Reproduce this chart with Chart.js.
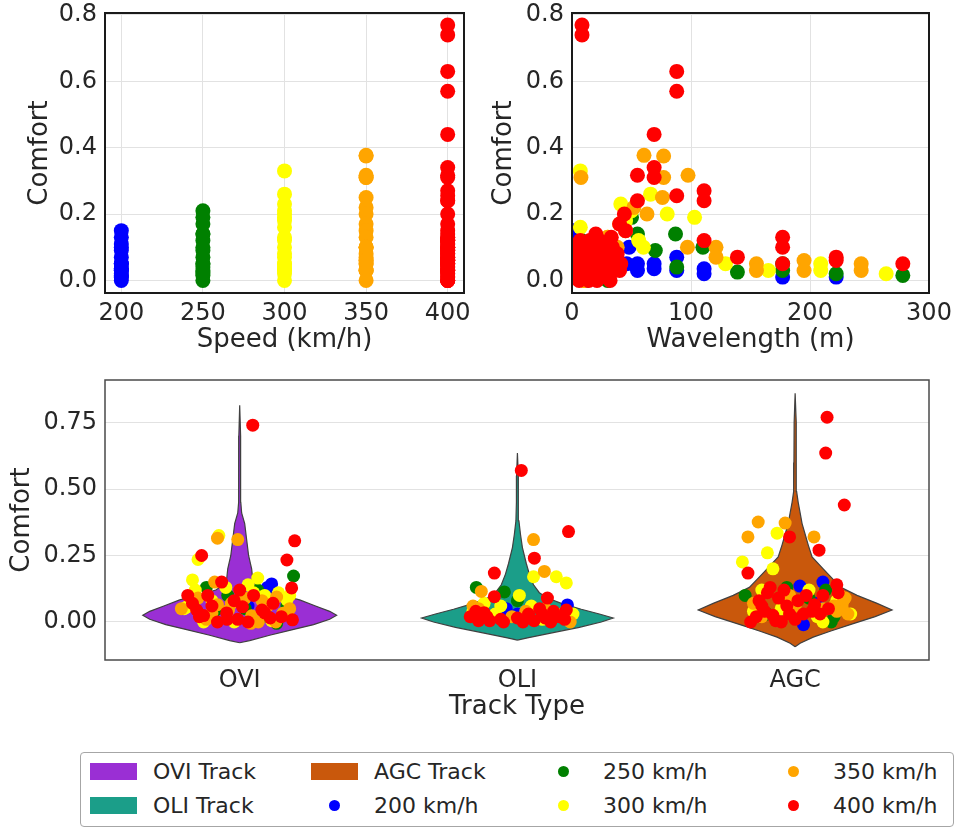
<!DOCTYPE html>
<html>
<head>
<meta charset="utf-8">
<script src="https://cdn.jsdelivr.net/npm/chart.js@4.4.1/dist/chart.umd.min.js"></script>
<style>
  body { margin: 0; background: #fff; font-family: 'DejaVu Sans', sans-serif; }
  #page { position: relative; width: 956px; height: 828px; overflow: hidden; }
  .panel { position: absolute; }
  #legend {
    position: absolute; left: 80px; top: 752px; width: 874px; height: 75px;
    box-sizing: border-box; border: 1px solid #a6a6a6; border-radius: 4px;
    padding: 1px 0 0 9px; display: grid;
    grid-template-columns: 221px 229px 230px auto; grid-template-rows: 34px 34px;
    grid-auto-flow: column; font-size: 22px; color: #262626;
  }
  .item { display: flex; align-items: center; white-space: nowrap; }
  .handle { width: 47px; height: 17px; margin-right: 16px; display: flex; align-items: center; justify-content: center; }
  .dot { width: 11px; height: 11px; border-radius: 50%; }
</style>
</head>
<body>
<div id="page">
  <div class="panel" style="left:0;top:0;width:480px;height:360px"><canvas id="speedChart"></canvas></div>
  <div class="panel" style="left:480px;top:0;width:476px;height:360px"><canvas id="waveChart"></canvas></div>
  <div class="panel" style="left:0;top:360px;width:956px;height:392px"><canvas id="trackChart"></canvas></div>
  <div id="legend"></div>
</div>
<script>
// Speeds and tracks
const speeds = [200, 250, 300, 350, 400];
const speedLabels = ['200 km/h', '250 km/h', '300 km/h', '350 km/h', '400 km/h'];
const speedColors = ['#0000ff', '#008000', '#ffff00', '#ffa500', '#ff0000'];
const trackNames = ['OVI', 'OLI', 'AGC'];
const trackLabels = ['OVI Track', 'OLI Track', 'AGC Track'];
const trackColors = ['#9a2fd4', '#1b9e89', '#c9580c'];

// Wavelength (m) and comfort of each case, per speed
const wave200 = [1, 2, 4, 8, 48, 88, 46, 55, 69, 55, 69, 88, 111, 111, 177, 222, 12, 25];
const comfort200 = [0.15, 0.13, 0.11, 0.09, 0.10, 0.07, 0.05, 0.05, 0.05, 0.03, 0.035, 0.03, 0.035, 0.02, 0.01, 0.01, 0.0, 0.015];
const wave250 = [47, 50, 43, 55, 87, 8, 110, 70, 21, 88, 139, 177, 177, 222, 278, 12, 30];
const comfort250 = [0.21, 0.19, 0.17, 0.14, 0.14, 0.12, 0.10, 0.09, 0.05, 0.04, 0.025, 0.05, 0.03, 0.02, 0.015, 0.07, 0.0];
const wave300 = [7, 66, 41, 50, 80, 103, 7, 45, 56, 30, 60, 20, 129, 165, 209, 209, 264, 10, 35, 27];
const comfort300 = [0.33, 0.26, 0.23, 0.21, 0.20, 0.19, 0.16, 0.18, 0.12, 0.13, 0.10, 0.08, 0.05, 0.03, 0.05, 0.03, 0.02, 0.0, 0.07, 0.04];
const wave350 = [60.5, 77, 97.5, 77, 7.5, 76, 52, 63, 40, 45, 30, 97, 121, 121, 20, 155, 155, 195, 195, 243, 243, 10, 38, 25];
const comfort350 = [0.377, 0.375, 0.317, 0.31, 0.31, 0.25, 0.22, 0.20, 0.17, 0.15, 0.13, 0.10, 0.10, 0.07, 0.08, 0.05, 0.03, 0.06, 0.03, 0.05, 0.03, 0.0, 0.1, 0.06];
const wave400 = [8.4, 8.4, 88, 88, 69, 69, 55, 69, 111, 88, 111, 55, 44, 40, 45, 20, 33, 15, 177, 111, 28, 177, 8, 22, 12, 139, 222, 222, 30, 5, 18, 278, 177, 38, 36, 10, 3, 25, 24, 6, 14, 2, 40, 32, 16,
    4, 7, 11, 13, 17, 19, 23, 26, 29, 31, 34, 37, 41, 9, 21, 1];
const comfort400 = [0.77, 0.74, 0.63, 0.57, 0.44, 0.34, 0.317, 0.31, 0.27, 0.255, 0.24, 0.24, 0.20, 0.17, 0.15, 0.14, 0.13, 0.12, 0.13, 0.12, 0.11, 0.10, 0.10, 0.09, 0.08, 0.07, 0.07, 0.06, 0.06, 0.05, 0.05, 0.05, 0.05, 0.08, 0.04, 0.03, 0.02, 0.02, 0.01, 0.0, 0.0, 0.07, 0.03, 0.0, 0.09,
    0.04, 0.12, 0.06, 0.11, 0.03, 0.08, 0.12, 0.06, 0.09, 0.03, 0.10, 0.06, 0.05, 0.01, 0.0, 0.10];

// Tick labels
const speedTicks = [200, 250, 300, 350, 400];
const waveTicks = [0, 100, 200, 300];
const comfortTicks = [0, 0.2, 0.4, 0.6, 0.8];
const trackTicks = [0, 1, 2];
const violinTicks = [0, 0.25, 0.5, 0.75];

// Violin outlines: comfort level and half width (in track units)
const oviLevels = [-0.078, -0.07, -0.05, -0.03, -0.01, 0.01, 0.025, 0.04, 0.06, 0.083, 0.10, 0.12, 0.14, 0.16, 0.20, 0.25, 0.31, 0.37, 0.41, 0.45, 0.55, 0.70, 0.815];
const oviWidths = [0, 0.036, 0.108, 0.187, 0.266, 0.324, 0.349, 0.324, 0.273, 0.216, 0.151, 0.086, 0.058, 0.047, 0.043, 0.032, 0.025, 0.018, 0.007, 0.004, 0.0036, 0.003, 0];
const oliLevels = [-0.068, -0.06, -0.04, -0.02, 0.0, 0.015, 0.03, 0.048, 0.07, 0.09, 0.11, 0.14, 0.18, 0.22, 0.28, 0.33, 0.38, 0.45, 0.55, 0.635];
const oliWidths = [0, 0.036, 0.129, 0.223, 0.302, 0.345, 0.295, 0.230, 0.158, 0.108, 0.079, 0.058, 0.043, 0.032, 0.018, 0.011, 0.0054, 0.0036, 0.003, 0];
const agcLevels = [-0.093, -0.08, -0.057, -0.035, -0.01, 0.02, 0.045, 0.07, 0.10, 0.13, 0.16, 0.20, 0.245, 0.29, 0.33, 0.37, 0.41, 0.45, 0.49, 0.6, 0.75, 0.86];
const agcWidths = [0, 0.018, 0.065, 0.126, 0.198, 0.288, 0.349, 0.295, 0.223, 0.165, 0.137, 0.101, 0.061, 0.047, 0.036, 0.025, 0.018, 0.011, 0.0054, 0.0043, 0.0036, 0];

// Strip points: [offset from track centre, comfort]
const ovi200 = [[0.115, 0.143], [0.10, 0.13], [0.03, 0.06], [0.08, 0.11]];
const ovi250 = [[0.194, 0.173], [-0.043, 0.10], [0.065, 0.12], [-0.086, 0.045], [0.133, -0.005], [0.17, 0.06], [-0.12, 0.13], [0.02, 0.05], [0.1, 0.02]];
const ovi300 = [[-0.075, 0.325], [-0.15, 0.235], [-0.17, 0.158], [0.065, 0.165], [-0.19, 0.057], [0.17, 0.083], [0.05, 0.11], [-0.13, 0.0], [0.115, 0.005], [-0.2, 0.05], [0.14, 0.11],
    [-0.16, 0.12], [-0.05, 0.13], [0.03, 0.14], [0.09, 0.1], [-0.1, 0.08], [0.18, 0.1], [-0.02, 0.0]];
const ovi350 = [[-0.08, 0.315], [-0.007, 0.31], [-0.09, 0.15], [0.133, 0.094], [0.043, 0.023], [-0.1, 0.034], [-0.08, 0.065], [0.156, 0.033], [0.067, 0.0], [-0.04, 0.045], [-0.21, 0.05], [0.1, 0.06],
    [-0.15, 0.09], [-0.03, 0.07], [0.02, 0.09], [0.08, 0.08], [0.18, 0.05], [-0.12, 0.01], [0.04, -0.005], [0.13, 0.0]];
const ovi400 = [[0.047, 0.74], [-0.137, 0.25], [0.198, 0.305], [0.17, 0.233], [0.187, 0.128], [-0.065, 0.15], [-0.187, 0.10], [-0.115, 0.10], [0, 0.12], [-0.155, 0.045], [-0.145, 0.02], [-0.047, 0.034], [0.01, 0.057], [0.08, 0.045], [0.09, 0.034], [0.19, 0.008], [-0.045, 0.01], [-0.007, 0.01], [-0.13, 0.024],
    [-0.17, 0.07], [-0.1, 0.06], [-0.02, 0.08], [0.05, 0.1], [0.12, 0.07], [0.15, 0.02], [-0.08, 0.0], [0.03, 0.0], [0.11, 0.015]];
const oli200 = [[-0.04, 0.05], [0.18, 0.064], [0.0, 0.03]];
const oli250 = [[-0.148, 0.13], [-0.047, 0.113], [0.12, 0.02], [-0.1, 0.01], [0.0, 0.08]];
const oli300 = [[0.058, 0.17], [0.14, 0.17], [0.176, 0.147], [0.007, 0.1], [-0.06, 0.06], [0.2, 0.03], [-0.16, 0.04], [0.09, 0.01], [-0.12, 0.07], [0.05, 0.06], [-0.08, 0.03]];
const oli350 = [[0.058, 0.31], [0.097, 0.19], [-0.13, 0.115], [-0.14, 0.05], [0.19, 0.0], [0.03, 0.04], [-0.02, 0.02], [-0.16, 0.06], [0.1, 0.05], [0.16, 0.03]];
const oli400 = [[0.014, 0.57], [0.184, 0.34], [0.061, 0.24], [-0.083, 0.184], [-0.083, 0.095], [0.108, 0.09], [0.176, 0.045], [-0.17, 0.02], [-0.14, 0.005], [-0.1, 0.005], [-0.06, 0.01], [0.0, 0.015], [0.04, 0.03], [0.06, 0.005], [0.09, 0.03], [0.12, 0.0], [0.15, 0.02], [-0.12, 0.035], [0.08, 0.05],
    [-0.15, 0.04], [-0.05, 0.0], [0.02, 0.0], [0.1, 0.015], [0.17, 0.01], [-0.11, 0.02], [0.13, 0.04]];
const agc200 = [[0.017, 0.135], [0.1, 0.15], [0.03, -0.01], [0.08, 0.07]];
const agc250 = [[-0.03, 0.13], [0.13, 0.0], [-0.18, 0.1], [0.05, 0.09], [-0.1, 0.03], [0.11, 0.12], [0.14, 0.02]];
const agc300 = [[-0.065, 0.334], [-0.1, 0.26], [-0.19, 0.226], [-0.08, 0.2], [0.1, 0.0], [0.15, 0.08], [-0.05, 0.05], [0.2, 0.03], [-0.15, 0.04],
    [-0.12, 0.12], [0.05, 0.12], [0.16, 0.1], [0.08, 0.02]];
const agc350 = [[-0.133, 0.376], [-0.036, 0.372], [-0.17, 0.32], [0.068, 0.32], [0.17, 0.05], [0.17, 0.07], [0.19, 0.03], [0.14, 0.06], [-0.12, 0.02], [0.0, 0.06],
    [0.15, 0.04], [0.18, 0.09], [-0.15, 0.07], [0.1, 0.05], [-0.02, 0.1]];
const agc400 = [[0.115, 0.77], [0.11, 0.635], [0.177, 0.44], [-0.02, 0.32], [0.086, 0.27], [-0.17, 0.184], [0.15, 0.14], [0.155, 0.11], [-0.1, 0.11], [-0.06, 0.09], [-0.03, 0.06], [-0.11, 0.04], [-0.14, 0.02], [-0.16, 0.0], [-0.08, 0.025], [-0.02, 0.03], [0.04, 0.1], [0.07, 0.065], [0.09, 0.03], [0.03, 0.03], [-0.05, 0.0],
    [-0.13, 0.08], [-0.09, 0.13], [-0.04, 0.12], [0.01, 0.08], [0.06, 0.04], [0.1, 0.1], [-0.12, 0.06], [0.0, 0.01], [0.12, 0.05], [-0.07, 0.005]];

const waves = [wave200, wave250, wave300, wave350, wave400];
const comforts = [comfort200, comfort250, comfort300, comfort350, comfort400];
const strips = [
    [ovi200, ovi250, ovi300, ovi350, ovi400],
    [oli200, oli250, oli300, oli350, oli400],
    [agc200, agc250, agc300, agc350, agc400]
];
const violins = [[oviLevels, oviWidths], [oliLevels, oliWidths], [agcLevels, agcWidths]];

Chart.defaults.font.family = "'DejaVu Sans', sans-serif";
Chart.defaults.color = '#262626';
Chart.defaults.animation = false;
Chart.defaults.events = [];
Chart.defaults.plugins.legend.display = false;
Chart.defaults.plugins.tooltip.enabled = false;

// Box round the plot area, like matplotlib spines
const framePlugin = {
    id: 'frame',
    afterDatasetsDraw(chart, args, opts) {
        const { ctx, chartArea: a } = chart;
        ctx.save();
        ctx.strokeStyle = opts.color;
        ctx.lineWidth = opts.width;
        ctx.strokeRect(a.left, a.top, a.right - a.left, a.bottom - a.top);
        ctx.restore();
    }
};

function fixBox(width, height) {
    return scale => {
        if (width) scale.width = width;
        if (height) scale.height = height;
        scale.paddingLeft = scale.paddingRight = scale.paddingTop = scale.paddingBottom = 0;
    };
}

function setTicks(values) {
    return scale => { scale.ticks = values.map(v => ({ value: v })); };
}

function yAxis(min, max, ticks, width, titlePad, digits, tickSize) {
    return {
        type: 'linear', min: min, max: max,
        afterBuildTicks: setTicks(ticks),
        afterFit: fixBox(width, 0),
        grid: { color: '#e2e2e2', drawTicks: false },
        border: { display: false },
        ticks: { padding: 8, font: { size: tickSize }, callback: v => v.toFixed(digits) },
        title: { display: true, text: 'Comfort', font: { size: 26 }, padding: { top: titlePad, bottom: 0 } }
    };
}

function xAxis(min, max, ticks, height, title, titlePad, showGrid, label) {
    return {
        type: 'linear', min: min, max: max,
        afterBuildTicks: setTicks(ticks),
        afterFit: fixBox(0, height),
        grid: { display: showGrid, color: '#e2e2e2', drawTicks: false },
        border: { display: false },
        ticks: { padding: 6, font: { size: 24 }, maxRotation: 0, callback: label },
        title: { display: true, text: title, font: { size: 26 }, padding: { top: 0, bottom: titlePad } }
    };
}

function pointSets(makePoints, radius) {
    return speeds.map((s, i) => ({
        type: 'scatter',
        label: speedLabels[i],
        data: makePoints(i),
        backgroundColor: speedColors[i],
        borderWidth: 0,
        pointRadius: radius,
        order: speeds.length - 1 - i
    }));
}

// Comfort vs speed
new Chart(document.getElementById('speedChart'), {
    type: 'scatter',
    data: {
        datasets: pointSets(i => comforts[i].map(c => ({ x: speeds[i], y: c })), 7.5)
    },
    options: {
        responsive: true,
        maintainAspectRatio: false,
        layout: { padding: { left: 0, top: 13, right: 16, bottom: 0 } },
        scales: {
            x: xAxis(190, 410, speedTicks, 67, 'Speed (km/h)', 4, true, v => String(v)),
            y: yAxis(-0.038, 0.806, comfortTicks, 105, 25, 1, 24)
        },
        plugins: { frame: { color: '#1a1a1a', width: 2 } }
    },
    plugins: [framePlugin]
});

// Comfort vs wavelength
new Chart(document.getElementById('waveChart'), {
    type: 'scatter',
    data: {
        datasets: pointSets(i => waves[i].map((w, j) => ({ x: w, y: comforts[i][j] })), 7.5)
    },
    options: {
        responsive: true,
        maintainAspectRatio: false,
        layout: { padding: { left: 0, top: 13, right: 27, bottom: 0 } },
        scales: {
            x: xAxis(0, 300, waveTicks, 67, 'Wavelength (m)', 4, true, v => String(v)),
            y: yAxis(-0.038, 0.806, comfortTicks, 92, 9, 1, 24)
        },
        plugins: { frame: { color: '#1a1a1a', width: 2 } }
    },
    plugins: [framePlugin]
});

// Violins with strip points per track
function violinOutline(k) {
    const [levels, widths] = violins[k];
    const right = levels.map((y, i) => ({ x: k + widths[i], y: y }));
    const left = levels.map((y, i) => ({ x: k - widths[i], y: y })).reverse();
    return right.concat(left);
}

const violinSets = trackNames.map((name, k) => ({
    type: 'line',
    label: trackLabels[k],
    data: violinOutline(k),
    backgroundColor: trackColors[k],
    borderColor: '#404040',
    borderWidth: 1.2,
    pointRadius: 0,
    tension: 0,
    fill: 'shape',
    order: 10
}));

const stripSets = pointSets(i => strips.flatMap((track, k) => track[i].map(([d, c]) => ({ x: k + d, y: c }))), 6.5);

new Chart(document.getElementById('trackChart'), {
    type: 'scatter',
    data: { datasets: violinSets.concat(stripSets) },
    options: {
        responsive: true,
        maintainAspectRatio: false,
        layout: { padding: { left: 0, top: 20, right: 27, bottom: 0 } },
        scales: {
            x: xAxis(-0.485, 2.482, trackTicks, 92, 'Track Type', 29, false, v => trackNames[v]),
            y: yAxis(-0.143, 0.91, violinTicks, 105, 7, 2, 24)
        },
        plugins: { frame: { color: '#4a4a4a', width: 1.5 } }
    },
    plugins: [framePlugin]
});

// Legend, four columns of two rows
const legend = document.getElementById('legend');
const legendItems = trackLabels.map((t, k) => ({ text: t, color: trackColors[k], box: true }))
    .concat(speedLabels.map((t, i) => ({ text: t, color: speedColors[i], box: false })));
legendItems.forEach(item => {
    const el = document.createElement('div');
    el.className = 'item';
    const handle = document.createElement('span');
    handle.className = 'handle';
    if (item.box) {
        handle.style.background = item.color;
    } else {
        const dot = document.createElement('span');
        dot.className = 'dot';
        dot.style.background = item.color;
        handle.appendChild(dot);
    }
    const label = document.createElement('span');
    label.textContent = item.text;
    el.appendChild(handle);
    el.appendChild(label);
    legend.appendChild(el);
});
</script>
</body>
</html>
